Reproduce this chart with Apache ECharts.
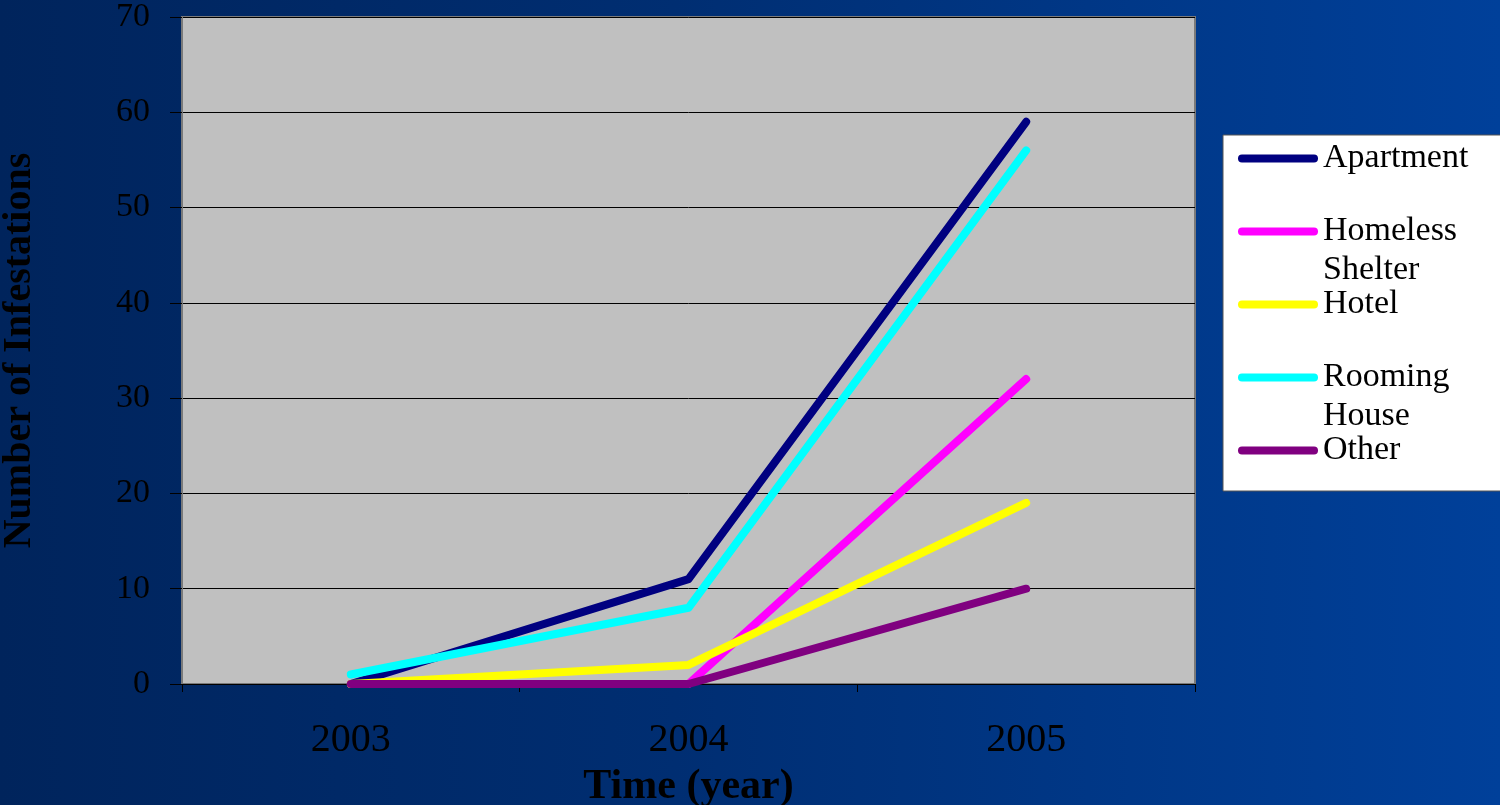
<!DOCTYPE html>
<html>
<head>
<meta charset="utf-8">
<script src="https://cdn.jsdelivr.net/npm/echarts@6/dist/echarts.min.js"></script>
<style>
html,body{margin:0;padding:0;}
#chart{width:1500px;height:805px;background:linear-gradient(90deg,#00245c 0%,#002e72 45%,#00409a 100%);}
</style>
</head>
<body>
<div id="chart"></div>
<script>
const years = ['2003', '2004', '2005'];
const seriesNames = ['Apartment', 'Homeless Shelter', 'Hotel', 'Rooming House', 'Other'];
const apartment = [0, 11, 59];
const homelessShelter = [0, 0, 32];
const hotel = [0, 2, 19];
const roomingHouse = [1, 8, 56];
const other = [0, 0, 10];
const colors = ['#000080', '#FF00FF', '#FFFF00', '#00FFFF', '#800080'];
const legendLabels = {
  'Apartment': 'Apartment',
  'Homeless Shelter': '\nHomeless\nShelter',
  'Hotel': 'Hotel',
  'Rooming House': '\nRooming\nHouse',
  'Other': 'Other'
};
const values = [apartment, homelessShelter, hotel, roomingHouse, other];
const serif = "'Liberation Serif','Times New Roman',serif";

const chart = echarts.init(document.getElementById('chart'), null, {renderer: 'canvas'});
chart.setOption({
  backgroundColor: 'transparent',
  animation: false,
  grid: {
    left: 182, right: 305, top: 17, bottom: 121,
    outerBoundsMode: 'none',
    containLabel: false,
    show: true, backgroundColor: '#C0C0C0', borderColor: '#7a7a7a', borderWidth: 2
  },
  legend: {
    orient: 'vertical',
    left: 1223, top: 135,
    padding: [4, 50, 21, 15],
    backgroundColor: '#FFFFFF',
    borderColor: '#555555', borderWidth: 1,
    itemWidth: 80, itemHeight: 8,
    itemGap: -5,
    icon: 'path://M4,0 L76,0 A4,4 0 0 1 76,8 L4,8 A4,4 0 0 1 4,0 Z',
    data: seriesNames,
    formatter: function (n) { return legendLabels[n]; },
    textStyle: { color: '#000', fontFamily: serif, fontSize: 34, lineHeight: 39 }
  },
  xAxis: {
    type: 'category',
    data: years,
    boundaryGap: true,
    name: 'Time (year)',
    nameLocation: 'middle',
    nameGap: 82,
    nameTextStyle: { color: '#000', fontFamily: serif, fontSize: 42, fontWeight: 'bold' },
    axisLine: { show: true, lineStyle: { color: '#000', width: 1 } },
    axisTick: { show: true, length: 8, lineStyle: { color: '#000' } },
    axisLabel: { color: '#000', fontFamily: serif, fontSize: 40, margin: 36 },
    splitLine: { show: false }
  },
  yAxis: {
    type: 'value',
    min: 0, max: 70, interval: 10,
    name: 'Number of Infestations',
    nameLocation: 'middle',
    nameGap: 142,
    nameRotate: 90,
    nameTextStyle: { color: '#000', fontFamily: serif, fontSize: 40, fontWeight: 'bold' },
    axisLine: { show: true, lineStyle: { color: '#7a7a7a', width: 2 } },
    axisTick: { show: true, length: 12, lineStyle: { color: '#000' } },
    axisLabel: { color: '#000', fontFamily: serif, fontSize: 34, margin: 32 },
    splitLine: { show: true, lineStyle: { color: '#000', width: 1 } }
  },
  series: seriesNames.map((name, i) => ({
    name: name,
    type: 'line',
    data: values[i],
    symbol: 'none',
    color: colors[i],
    lineStyle: { color: colors[i], width: 8, cap: 'round', join: 'round' }
  }))
});
</script>
</body>
</html>
